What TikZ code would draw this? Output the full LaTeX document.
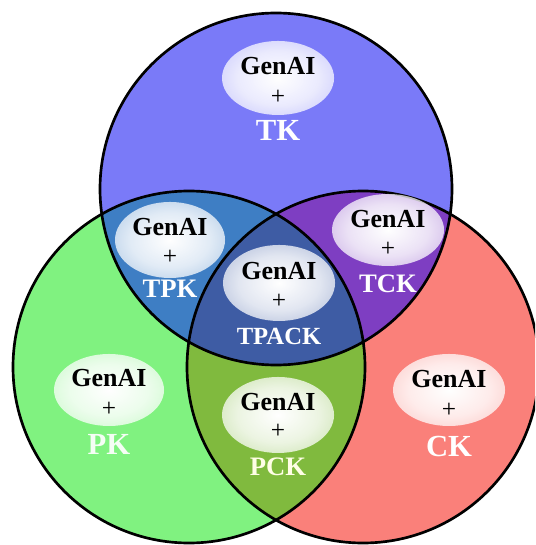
\documentclass[tikz,border=0pt]{standalone}
\usepackage{fontspec}
\setmainfont{Liberation Serif}
\usetikzlibrary{fadings}

\definecolor{tkblue}{RGB}{122,122,248}
\definecolor{pkgreen}{RGB}{128,242,128}
\definecolor{ckred}{RGB}{250,128,122}
\definecolor{tpkblue}{RGB}{62,126,196}
\definecolor{tckpurple}{RGB}{126,62,194}
\definecolor{pckolive}{RGB}{128,186,62}
\definecolor{tpacknavy}{RGB}{62,92,164}

% soft white glow behind the labels
\pgfdeclareradialshading{glowmask}{\pgfpointorigin}{color(0bp)=(white); color(18bp)=(white!85!black); color(36bp)=(white!55!black); color(50bp)=(black)}
\pgfdeclarefading{glow}{\pgfuseshading{glowmask}}

\begin{document}
\begin{tikzpicture}[x=0.75pt,y=-0.75pt,
  genai/.style={font=\bfseries\fontsize{19.5}{21}\selectfont, text=black, inner sep=0pt},
  plus/.style={font=\fontsize{19}{21}\selectfont, text=black, inner sep=0pt},
  know/.style={font=\bfseries\fontsize{20}{22}\selectfont, text=white, inner sep=0pt},
  bigknow/.style={know, font=\bfseries\fontsize{23}{25}\selectfont},
  ring/.style={draw=black, line width=2pt}]
  \clip (0,0) rectangle (535,545);
  \fill[white] (0,0) rectangle (535,545);

  % circle centres
  \coordinate (T) at (276,189);
  \coordinate (P) at (189,367);
  \coordinate (C) at (363,367);
  \def\rad{176}

  % base discs
  \fill[pkgreen] (P) circle (\rad);
  \fill[ckred] (C) circle (\rad);
  \fill[tkblue] (T) circle (\rad);

  % overlaps
  \begin{scope}
    \clip (T) circle (\rad);
    \fill[tpkblue] (P) circle (\rad);
    \fill[tckpurple] (C) circle (\rad);
  \end{scope}
  \begin{scope}
    \clip (P) circle (\rad);
    \fill[pckolive] (C) circle (\rad);
  \end{scope}
  \begin{scope}
    \clip (T) circle (\rad);
    \clip (P) circle (\rad);
    \fill[tpacknavy] (C) circle (\rad);
  \end{scope}

  % outlines
  \draw[ring] (T) circle (\rad);
  \draw[ring] (P) circle (\rad);
  \draw[ring] (C) circle (\rad);

  % glow ellipses
  \fill[white, path fading=glow] (278,78) ellipse (56 and 37);
  \fill[white, path fading=glow] (170,240) ellipse (55 and 38);
  \fill[white, path fading=glow] (279,283) ellipse (56 and 38);
  \fill[white, path fading=glow] (388,230) ellipse (56 and 36);
  \fill[white, path fading=glow] (109,390) ellipse (55 and 36);
  \fill[white, path fading=glow] (278,415) ellipse (56 and 38);
  \fill[white, path fading=glow] (449,390) ellipse (56 and 36);

  % TK
  \node[genai] (tkgen) at (278,66) {GenAI};
  \node[plus] (tkplus) at (278,97) {+};
  \node[bigknow] (tklab) at (278,130) {TK};

  % TPK
  \node[genai] (tpkgen) at (170,227) {GenAI};
  \node[plus] (tpkplus) at (170,257) {+};
  \node[know] (tpklab) at (170,289) {TPK};

  % TPACK
  \node[genai] (tpackgen) at (279,271) {GenAI};
  \node[plus] (tpackplus) at (279,301) {+};
  \node[know, font=\bfseries\fontsize{18.5}{20}\selectfont] (tpacklab) at (279,336) {TPACK};

  % TCK
  \node[genai] (tckgen) at (388,219) {GenAI};
  \node[plus] (tckplus) at (388,249) {+};
  \node[know] (tcklab) at (388,284) {TCK};

  % PK
  \node[genai] (pkgen) at (109,378) {GenAI};
  \node[plus] (pkplus) at (109,409) {+};
  \node[bigknow, text=white!92!pkgreen] (pklab) at (109,444) {PK};

  % PCK
  \node[genai] (pckgen) at (278,402) {GenAI};
  \node[plus] (pckplus) at (278,431) {+};
  \node[know, text=white!90!yellow] (pcklab) at (278,467) {PCK};

  % CK
  \node[genai] (ckgen) at (449,379) {GenAI};
  \node[plus] (ckplus) at (449,410) {+};
  \node[bigknow] (cklab) at (449,446) {CK};
\end{tikzpicture}
\end{document}
